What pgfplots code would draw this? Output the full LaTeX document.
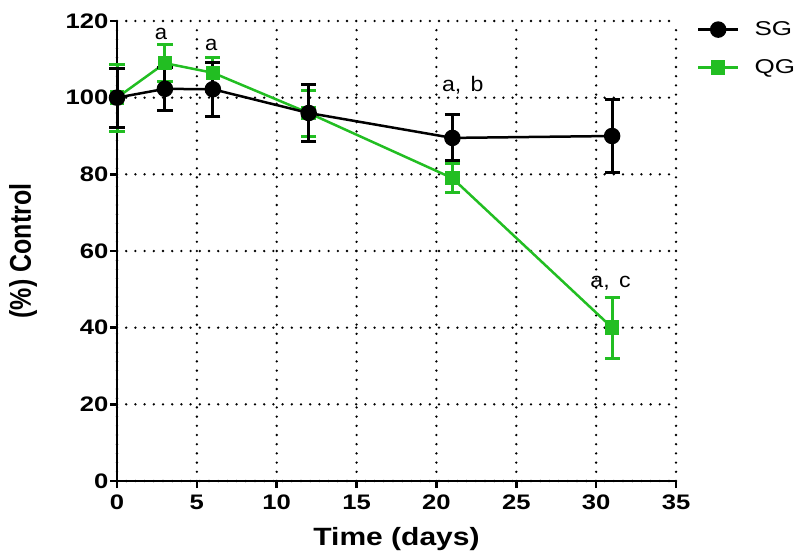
\documentclass[border=0pt]{standalone}
\usepackage{fontspec}
\setmainfont{Liberation Sans}
\usepackage{pgfplots}
\pgfplotsset{compat=1.18}
\definecolor{qggreen}{RGB}{34,190,34}

\begin{document}
\begin{tikzpicture}
\useasboundingbox (-58.5pt,-35.5pt) rectangle (344.5pt,240.5pt);
\begin{axis}[
    at={(0,0)}, anchor=south west,
    scale only axis, width=279.5pt, height=230pt,
    xmin=0, xmax=35, ymin=0, ymax=120,
    xtick={0,5,...,35}, ytick={0,20,...,120},
    axis lines=left,
    axis line style={line width=1.3pt, -},
    tick style={line width=1.3pt, black},
    tick align=outside, major tick length=3.5pt,
    xmajorgrids=true, ymajorgrids=true,
    grid style={line width=1.3pt, dash pattern=on 0pt off 4.6pt, line cap=round, black},
    /pgf/number format/assume math mode=true,
    ticklabel style={font=\bfseries\fontsize{10.5}{10.5}\selectfont, xscale=1.22},
    yticklabel style={inner xsep=0.5pt},
    xlabel={Time (days)}, ylabel={(\%) Control},
    label style={font=\bfseries\fontsize{12.5}{12.5}\selectfont},
    xlabel style={at={(axis description cs:0.5,-0.126)}, anchor=center, xscale=1.2},
    ylabel style={at={(axis description cs:-0.168,0.5)}, anchor=center, yscale=1.2},
    clip=false,
    legend style={draw=none, fill=none, at={(axis description cs:1.026,1.018)}, anchor=north west,
        font=\fontsize{10}{10}\selectfont, row sep=6.5pt, column sep=5pt,
        nodes={xscale=1.3}},
    legend cell align=left,
    legend image code/.code={
        \draw[#1, mark=none] (0pt,0pt) -- (20pt,0pt);
        \draw[#1] plot coordinates {(10pt,0pt)};},
]

\addplot[color=qggreen, line width=1.25pt, mark=square*, mark size=3pt,
    forget plot,
    error bars/.cd, y dir=both, y explicit,
    error bar style={line width=1.5pt, qggreen},
    error mark options={rotate=90, line width=1.5pt, mark size=3.8pt, qggreen}]
coordinates {
    (0,100) +- (0,8.7)
    (3,109) +- (0,4.8)
    (6,106.5) +- (0,4)
    (12,96) +- (0,6)
    (21,79) +- (0,3.8)
    (31,40) +- (0,8)
};

\addplot[color=black, line width=1.25pt, mark=*, mark size=3.5pt,
    error bars/.cd, y dir=both, y explicit,
    error bar style={line width=1.5pt, black},
    error mark options={rotate=90, line width=1.5pt, mark size=3.8pt, black}]
coordinates {
    (0,100) +- (0,7.7)
    (3,102.3) +- (0,5.6)
    (6,102.2) +- (0,7)
    (12,96) +- (0,7.5)
    (21,89.5) +- (0,6)
    (31,90) +- (0,9.6)
};
\addlegendentry{SG}

\addlegendimage{color=qggreen, line width=1.25pt, mark=square*, mark size=3pt}
\addlegendentry{QG}

\node[font=\fontsize{10.5}{10.5}\selectfont, xscale=1.05] at (axis cs:2.75,116.5) {a};
\node[font=\fontsize{10.5}{10.5}\selectfont, xscale=1.05] at (axis cs:5.9,113.8) {a};
\node[font=\fontsize{10.5}{10.5}\selectfont, xscale=1.1] at (axis cs:21.65,103.3) {a,\hspace{0.4em}b};
\node[font=\fontsize{10.5}{10.5}\selectfont, xscale=1.1] at (axis cs:30.9,51.6) {a,\hspace{0.4em}c};
\end{axis}
\end{tikzpicture}
\end{document}
